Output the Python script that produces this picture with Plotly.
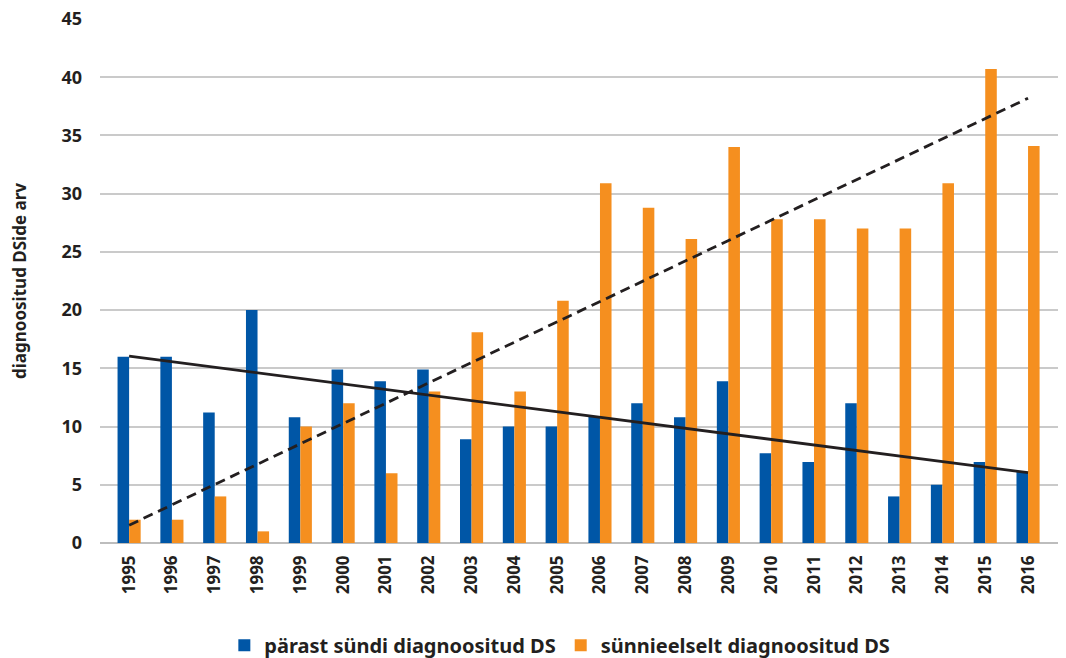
import numpy as np
import plotly.graph_objects as go

years = [str(y) for y in range(1995, 2017)]
parast_syndi = [16, 16, 11.2, 20, 10.8, 14.9, 13.9, 14.9, 8.9, 10, 10,
                10.85, 12, 10.8, 13.9, 7.7, 6.95, 12, 4, 5, 6.95, 6.1]
synnieelselt = [2, 2, 4, 1, 10, 12, 6, 13, 18.1, 13, 20.8,
                30.9, 28.8, 26.1, 34, 27.8, 27.8, 27, 27, 30.9, 40.7, 34.1]

series_names = ["pärast sündi diagnoositud DS", "sünnieelselt diagnoositud DS"]
y_ticks = [0, 5, 10, 15, 20, 25, 30, 35, 40, 45]

BLUE = "#0056A6"
ORANGE = "#F58F1F"
TEXT = "#231F20"
FONT = "Noto Sans"

# linear trend lines (least squares over category index)
idx = np.arange(len(years))
trend_blue = np.polyval(np.polyfit(idx, parast_syndi, 1), idx)
trend_orange = np.polyval(np.polyfit(idx, synnieelselt, 1), idx)

fig = go.Figure()
fig.add_trace(go.Bar(x=idx, y=parast_syndi, name=series_names[0],
                     marker=dict(color=BLUE, line=dict(width=0))))
fig.add_trace(go.Bar(x=idx, y=synnieelselt, name=series_names[1],
                     marker=dict(color=ORANGE, line=dict(width=0))))
fig.add_trace(go.Scatter(x=idx, y=trend_blue, mode="lines", showlegend=False,
                         line=dict(color=TEXT, width=2.8), hoverinfo="skip"))
fig.add_trace(go.Scatter(x=idx, y=trend_orange, mode="lines", showlegend=False,
                         line=dict(color=TEXT, width=2.8, dash="10px,6px"),
                         hoverinfo="skip"))

fig.update_layout(
    width=1066, height=658,
    margin=dict(l=100, r=8, t=19, b=115, autoexpand=False),
    paper_bgcolor="white", plot_bgcolor="white",
    barmode="group", bargap=0.46, bargroupgap=0,
    font=dict(family=FONT, color=TEXT),
    legend=dict(orientation="h", x=0.48, xanchor="center", y=-0.195,
                yanchor="middle", font=dict(size=20, family=FONT, weight="bold"),
                itemwidth=30, traceorder="normal"),
    xaxis=dict(
        tickmode="array", tickvals=list(idx), ticktext=years,
        range=[-0.68, 21.70], tickangle=-90,
        tickfont=dict(size=17, family=FONT, weight="bold", color=TEXT),
        showgrid=False, showline=False, ticks="", zeroline=False,
        ticklabelstandoff=8,
    ),
    yaxis=dict(
        range=[0, 45], tickvals=y_ticks,
        tickfont=dict(size=18, family=FONT, weight="bold", color=TEXT),
        showgrid=True, gridcolor="#CACACA", gridwidth=1.5,
        zeroline=True, zerolinecolor="#BDBDBD", zerolinewidth=1.5,
        ticks="", ticklabelstandoff=17,
        title=dict(text="diagnoositud DSide arv",
                   font=dict(size=17, family=FONT, weight="bold", color=TEXT),
                   standoff=30),
    ),
)

fig.write_html("out.html")
